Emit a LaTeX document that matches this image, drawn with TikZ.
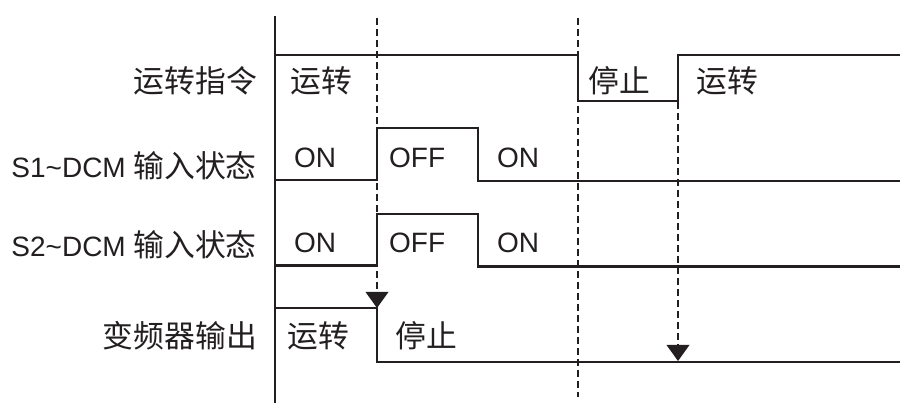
\documentclass[tikz,border=0pt]{standalone}
\usepackage{fontspec}
\setmainfont{Liberation Sans}
\newfontfamily\cjk[Scale=1.1]{Noto Sans CJK SC}
\definecolor{ink}{HTML}{231F20}
\begin{document}
\begin{tikzpicture}[x=1pt,y=-1pt,
  sig/.style={draw=ink,line width=2.6pt,line join=miter},
  axisline/.style={draw=ink,line width=2.6pt},
  guide/.style={draw=ink,line width=2pt,dash pattern=on 7pt off 4pt},
  lbl/.style={anchor=base east,inner sep=0pt,text=ink,font=\fontsize{28pt}{30pt}\selectfont},
  txt/.style={anchor=base west,inner sep=0pt,text=ink,font=\fontsize{28pt}{30pt}\selectfont},
  tip/.style={fill=ink,draw=none}]
\useasboundingbox (0,0) rectangle (900,403);
% axis
\coordinate (a0) at (275,16);
\coordinate (a1) at (275,403);
\draw[axisline] (a0) -- (a1);
% guides
\coordinate (g1t) at (377,18);
\coordinate (g1b) at (377,292);
\coordinate (g2t) at (578,18);
\coordinate (g2b) at (578,397);
\coordinate (g3t) at (678,102);
\coordinate (g3b) at (678,345);
\draw[guide] (g1t) -- (g1b);
\draw[guide] (g2t) -- (g2b);
\draw[guide] (g3t) -- (g3b);
% arrow heads
\coordinate (tip1) at (377,308);
\coordinate (tip2) at (678,361);
\fill[tip] (tip1) -- ++(-11.5,-16) -- ++(23,0) -- cycle;
\fill[tip] (tip2) -- ++(-11.5,-16) -- ++(23,0) -- cycle;
% waveforms
\draw[sig] (275,55) -- (578,55) -- (578,101) -- (678,101) -- (678,55) -- (900,55);
\draw[sig] (275,180) -- (377,180) -- (377,128) -- (478,128) -- (478,181) -- (900,181);
\draw[sig] (275,265.5) -- (377,265.5) -- (377,214) -- (478,214) -- (478,266.5) -- (900,266.5);
\draw[sig] (275,308) -- (377,308) -- (377,362) -- (900,362);
% row labels
\node[lbl] (l1) at (257,93) {\cjk 运转指令};
\node[lbl] (l2) at (257,178) {S1\textasciitilde DCM {\cjk 输入状态}};
\node[lbl] (l3) at (257,257) {S2\textasciitilde DCM {\cjk 输入状态}};
\node[lbl] (l4) at (257,348) {\cjk 变频器输出};
% texts in waveforms
\node[txt] (r1a) at (290,93) {\cjk 运转};
\node[txt] (r1b) at (588,93) {\cjk 停止};
\node[txt] (r1c) at (696,93) {\cjk 运转};
\node[txt] (s1a) at (294,168) {ON};
\node[txt] (s1b) at (389,168) {OFF};
\node[txt] (s1c) at (497,168) {ON};
\node[txt] (s2a) at (294,253) {ON};
\node[txt] (s2b) at (389,253) {OFF};
\node[txt] (s2c) at (497,253) {ON};
\node[txt] (o1) at (287,348) {\cjk 运转};
\node[txt] (o2) at (395,348) {\cjk 停止};
\end{tikzpicture}
\end{document}
